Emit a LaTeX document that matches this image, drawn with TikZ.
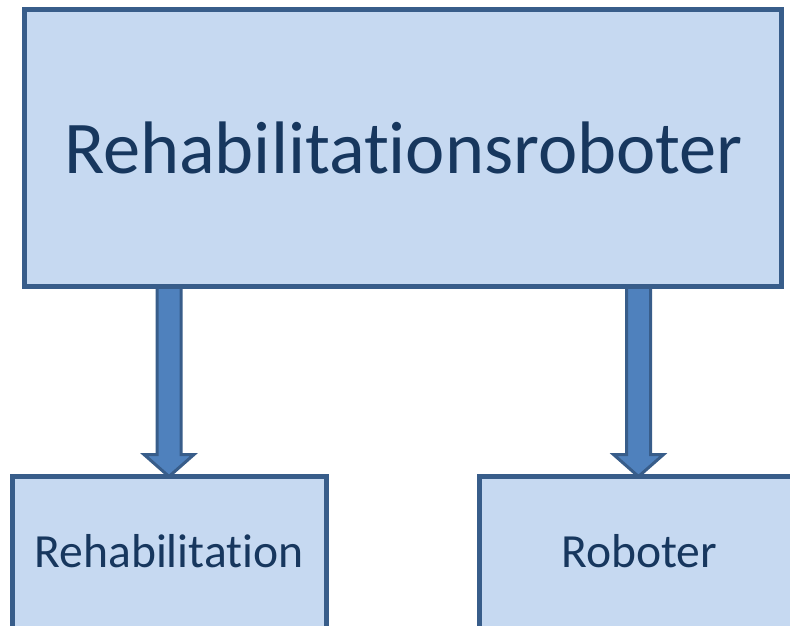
\documentclass[tikz,border=0pt]{standalone}
\usepackage{fontspec}
\setmainfont{Carlito}[RawFeature={-liga;-clig;-dlig}]
\usetikzlibrary{calc,backgrounds}
\definecolor{boxfill}{HTML}{C6D9F1}
\definecolor{boxline}{HTML}{385D8A}
\definecolor{arrfill}{HTML}{4F81BD}
\definecolor{txtcol}{HTML}{17375E}
\tikzset{
  boxnode/.style={draw=boxline, fill=boxfill, line width=5pt, rectangle, inner sep=0pt, outer sep=0pt},
  bigtext/.style={text=txtcol, font=\fontsize{74.4}{80}\selectfont, anchor=base, inner sep=0pt},
  smalltext/.style={text=txtcol, font=\fontsize{47.6}{52}\selectfont, anchor=base, inner sep=0pt},
  blockarrow/.style={draw=boxline, fill=arrfill, line width=3pt, line join=miter}
}
\newcommand\myblockarr[2]{%
  \draw[blockarrow] let \p1=(#1), \p2=(#2) in
  (\x2-12pt,\y1) -- (\x2-12pt,\y2+22pt) -- (\x2-25pt,\y2+22pt) -- (\x2,\y2)
  -- (\x2+25pt,\y2+22pt) -- (\x2+12pt,\y2+22pt) -- (\x2+12pt,\y1) -- cycle;}
\begin{document}
\begin{tikzpicture}[x=1pt,y=-1pt]
\useasboundingbox (0,0) rectangle (790,626);
\clip (0,0) rectangle (790,626);
\node[boxnode, minimum width=757pt, minimum height=277pt] (top) at (403,148) {};
\node[boxnode, minimum width=314pt, minimum height=223pt] (left) at (169,588) {};
\node[boxnode, minimum width=319.5pt, minimum height=223pt] (right) at (639.25,588) {};
\node[bigtext] (toptext) at (403.5,173) {Rehabilitationsroboter};
\node[smalltext] (lefttext) at (169,567) {Rehabilitation};
\node[smalltext] (righttext) at (639,567) {Roboter};
\begin{scope}[on background layer]
\myblockarr{top.south}{left.north}
\coordinate (rtip) at ($(right.north)+(-0.75,0)$);
\myblockarr{top.south}{rtip}
\end{scope}
\end{tikzpicture}
\end{document}
